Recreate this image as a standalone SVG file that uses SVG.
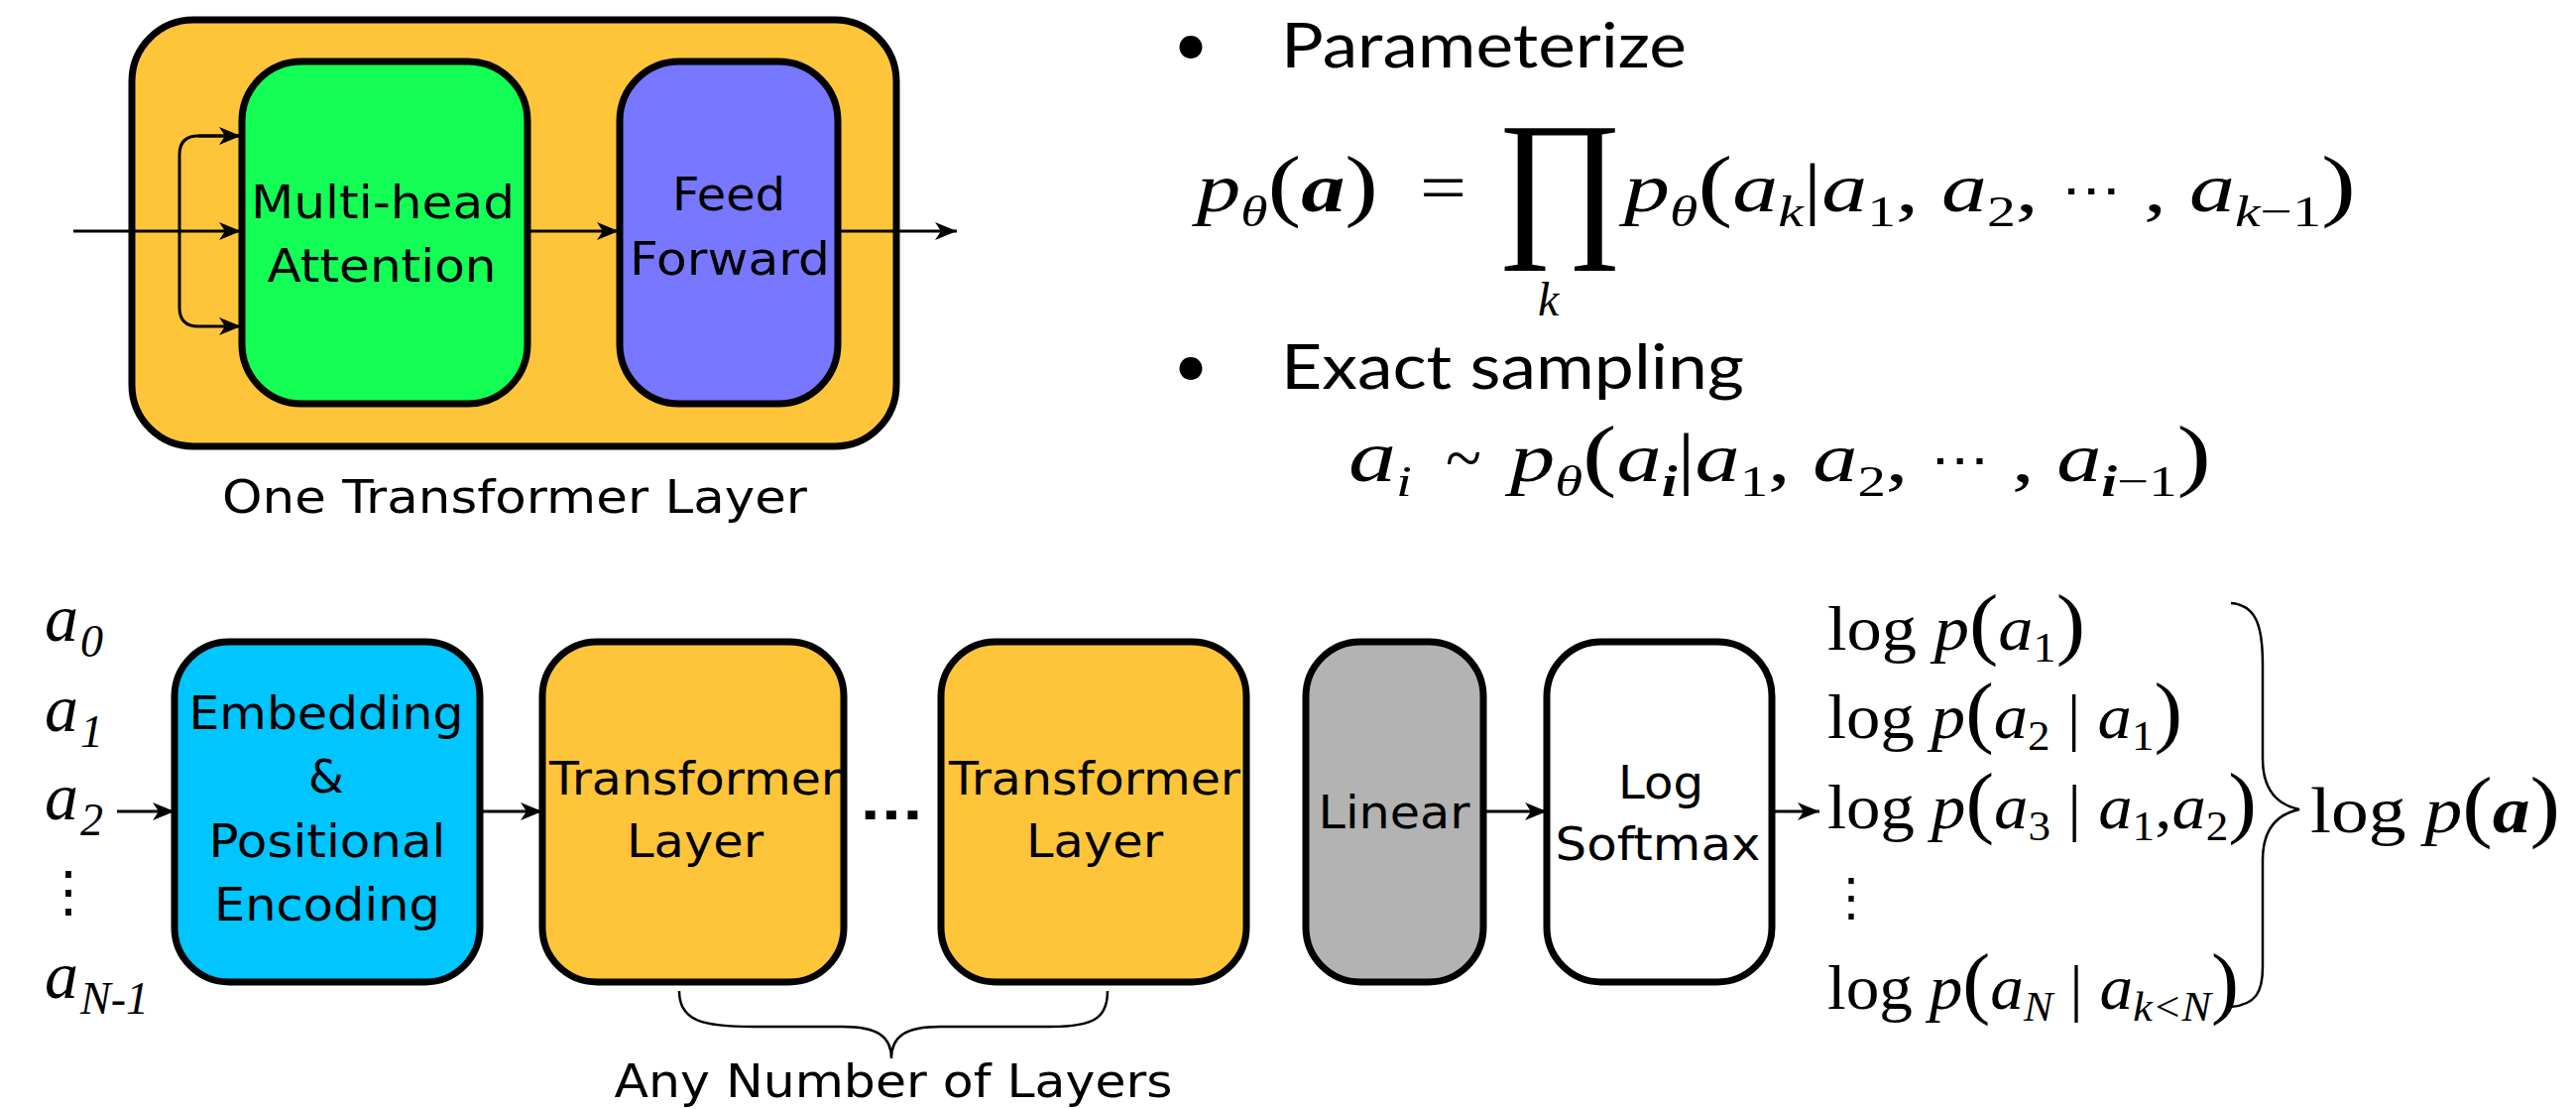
<svg xmlns="http://www.w3.org/2000/svg" width="2598" height="1118" viewBox="0 0 2598 1118">
<style>
.box{stroke:#000;stroke-width:7}
.lbl{font-family:"DejaVu Sans",sans-serif;font-size:46px;fill:#000;text-anchor:middle}
.cal{font-family:Lato,"Open Sans",sans-serif;font-size:62px;fill:#000}
.m{font-family:"Liberation Serif","DejaVu Serif",serif;font-style:italic;fill:#000}
.up{font-style:normal}
.b{font-weight:bold}
.s{font-size:44px}
.s2{font-size:42px}
.pr{font-size:80px;font-style:normal}
.dots{font-size:46px;font-style:normal}
.conn{stroke:#000;stroke-width:3;fill:none}
.thin{stroke:#000;stroke-width:2.5;fill:none}
</style>
<defs>
<marker id="ah" viewBox="0 0 22 18" refX="22" refY="9" markerWidth="22" markerHeight="18" markerUnits="userSpaceOnUse" orient="auto">
<path d="M0,0 L22,9 L0,18 L6,9 Z" fill="#000"/>
</marker>
</defs>
<rect width="2598" height="1118" fill="#fff"/>

<g id="transformer-layer-detail">
<rect class="box" x="133" y="20" width="771" height="430" rx="62" fill="#FEC53A" stroke-width="8"/>
<g id="multi-head-attention">
<rect class="box" x="244" y="62" width="288" height="345" rx="60" fill="#14FF55"/>
<text class="lbl" x="386" y="220" textLength="266" lengthAdjust="spacingAndGlyphs">Multi-head</text>
<text class="lbl" x="385" y="284" textLength="231" lengthAdjust="spacingAndGlyphs">Attention</text>
</g>
<g id="feed-forward">
<rect class="box" x="625" y="62" width="220" height="345" rx="60" fill="#7777FF"/>
<text class="lbl" x="735" y="212" textLength="114" lengthAdjust="spacingAndGlyphs">Feed</text>
<text class="lbl" x="736" y="277" textLength="202" lengthAdjust="spacingAndGlyphs">Forward</text>
</g>
<text class="lbl" x="519" y="517" textLength="590" lengthAdjust="spacingAndGlyphs">One Transformer Layer</text>
</g>

<g id="bullets">
<text class="cal" x="1183" y="66" font-size="60">•</text>
<text class="cal" x="1292" y="68" textLength="409" lengthAdjust="spacingAndGlyphs">Parameterize</text>
<text class="cal" x="1183" y="390" font-size="60">•</text>
<text class="cal" x="1292" y="392" textLength="467" lengthAdjust="spacingAndGlyphs">Exact sampling</text>
</g>

<g id="formula-1">
<text class="m" x="1207" y="213" font-size="70" textLength="183" lengthAdjust="spacingAndGlyphs">p<tspan class="s" dy="15">θ</tspan><tspan class="pr" dy="-15">(</tspan><tspan class="b">a</tspan><tspan class="pr">)</tspan></text>
<text class="m up" x="1432" y="213" font-size="70" textLength="47" lengthAdjust="spacingAndGlyphs" style="font-style:normal">=</text>
<text class="m up" x="0" y="0" font-size="166" transform="translate(1509,238) scale(0.94,1)" style="font-style:normal">∏</text>
<text class="m" x="1551" y="318" font-size="48">k</text>
<text class="m" x="1638" y="213" font-size="70" textLength="738" lengthAdjust="spacingAndGlyphs">p<tspan class="s" dy="15">θ</tspan><tspan class="pr" dy="-15">(</tspan>a<tspan class="s" dy="15">k</tspan><tspan class="up" dy="-15">|</tspan>a<tspan class="s up" dy="15">1</tspan><tspan class="up" dy="-15">, </tspan>a<tspan class="s up" dy="15">2</tspan><tspan class="up" dy="-15">,  </tspan><tspan class="dots" dy="-6">⋯</tspan><tspan class="up" dy="6">  , </tspan>a<tspan class="s" dy="15">k<tspan class="up">−1</tspan></tspan><tspan class="pr" dy="-15">)</tspan></text>
</g>

<g id="formula-2">
<text class="m" x="1360" y="485" font-size="74" textLength="64" lengthAdjust="spacingAndGlyphs">a<tspan class="s" dy="15">i</tspan></text>
<text class="m up" x="1458" y="485" font-size="70" textLength="36" lengthAdjust="spacingAndGlyphs" style="font-style:normal">~</text>
<text class="m" x="1523" y="485" font-size="70" textLength="707" lengthAdjust="spacingAndGlyphs">p<tspan class="s" dy="15">θ</tspan><tspan class="pr" dy="-15">(</tspan>a<tspan class="s b" dy="15">i</tspan><tspan class="up" dy="-15">|</tspan>a<tspan class="s up" dy="15">1</tspan><tspan class="up" dy="-15">, </tspan>a<tspan class="s up" dy="15">2</tspan><tspan class="up" dy="-15">,  </tspan><tspan class="dots" dy="-6">⋯</tspan><tspan class="up" dy="6">  , </tspan>a<tspan class="s" dy="15"><tspan class="b">i</tspan><tspan class="up">−1</tspan></tspan><tspan class="pr" dy="-15">)</tspan></text>
</g>

<g id="inputs">
<text class="m" font-size="68" y="646"><tspan x="45">a</tspan><tspan x="81" y="662" font-size="46">0</tspan></text>
<text class="m" font-size="68" y="737"><tspan x="45">a</tspan><tspan x="81" y="753" font-size="46">1</tspan></text>
<text class="m" font-size="68" y="826"><tspan x="45">a</tspan><tspan x="81" y="842" font-size="46">2</tspan></text>
<text class="m up" x="69" y="918" font-size="56" text-anchor="middle" style="font-style:normal">⋮</text>
<text class="m" font-size="68" y="1006"><tspan x="45">a</tspan><tspan x="81" y="1022" font-size="46">N-1</tspan></text>
</g>

<g id="embedding">
<rect class="box" x="176" y="647" width="308" height="343" rx="55" fill="#00C5FF"/>
<text class="lbl" x="329" y="735" textLength="277" lengthAdjust="spacingAndGlyphs">Embedding</text>
<text class="lbl" x="329" y="799">&amp;</text>
<text class="lbl" x="330" y="864" textLength="239" lengthAdjust="spacingAndGlyphs">Positional</text>
<text class="lbl" x="330" y="928" textLength="228" lengthAdjust="spacingAndGlyphs">Encoding</text>
</g>
<g id="transformer-1">
<rect class="box" x="547" y="647" width="304" height="343" rx="55" fill="#FEC53A"/>
<text class="lbl" x="701" y="801" textLength="294" lengthAdjust="spacingAndGlyphs">Transformer</text>
<text class="lbl" x="701" y="864" textLength="138" lengthAdjust="spacingAndGlyphs">Layer</text>
</g>
<text id="ellipsis" class="lbl" x="899" y="826" font-size="60" textLength="64" lengthAdjust="spacingAndGlyphs" font-weight="bold">...</text>
<g id="transformer-2">
<rect class="box" x="949" y="647" width="308" height="343" rx="55" fill="#FEC53A"/>
<text class="lbl" x="1104" y="801" textLength="294" lengthAdjust="spacingAndGlyphs">Transformer</text>
<text class="lbl" x="1104" y="864" textLength="138" lengthAdjust="spacingAndGlyphs">Layer</text>
</g>
<g id="linear">
<rect class="box" x="1317" y="647" width="179" height="343" rx="55" fill="#B3B3B3"/>
<text class="lbl" x="1406" y="835" textLength="153" lengthAdjust="spacingAndGlyphs">Linear</text>
</g>
<g id="log-softmax">
<rect class="box" x="1560" y="647" width="227" height="343" rx="55" fill="#FFFFFF"/>
<text class="lbl" x="1675" y="805" textLength="86" lengthAdjust="spacingAndGlyphs">Log</text>
<text class="lbl" x="1672" y="867" textLength="207" lengthAdjust="spacingAndGlyphs">Softmax</text>
</g>
<text id="any-number" class="lbl" x="901" y="1106" textLength="563" lengthAdjust="spacingAndGlyphs">Any Number of Layers</text>

<g id="outputs">
<text class="m" x="1843" y="655" font-size="64" textLength="260" lengthAdjust="spacingAndGlyphs"><tspan class="up">log </tspan>p<tspan class="pr" font-size="72">(</tspan>a<tspan class="s2 up" dy="12">1</tspan><tspan class="pr" font-size="72" dy="-12">)</tspan></text>
<text class="m" x="1843" y="744" font-size="64" textLength="358" lengthAdjust="spacingAndGlyphs"><tspan class="up">log </tspan>p<tspan class="pr" font-size="72">(</tspan>a<tspan class="s2 up" dy="12">2</tspan><tspan class="up" dy="-12"> | </tspan>a<tspan class="s2 up" dy="12">1</tspan><tspan class="pr" font-size="72" dy="-12">)</tspan></text>
<text class="m" x="1843" y="835" font-size="64" textLength="433" lengthAdjust="spacingAndGlyphs"><tspan class="up">log </tspan>p<tspan class="pr" font-size="72">(</tspan>a<tspan class="s2 up" dy="12">3</tspan><tspan class="up" dy="-12"> | </tspan>a<tspan class="s2 up" dy="12">1</tspan><tspan class="up" dy="-12">,</tspan>a<tspan class="s2 up" dy="12">2</tspan><tspan class="pr" font-size="72" dy="-12">)</tspan></text>
<text class="m up" x="1867" y="922" font-size="52" text-anchor="middle" style="font-style:normal">⋮</text>
<text class="m" x="1843" y="1017" font-size="64" textLength="415" lengthAdjust="spacingAndGlyphs"><tspan class="up">log </tspan>p<tspan class="pr" font-size="72">(</tspan>a<tspan class="s2" dy="12">N</tspan><tspan class="up" dy="-12"> | </tspan>a<tspan class="s2" dy="12">k&lt;N</tspan><tspan class="pr" font-size="72" dy="-12">)</tspan></text>
<text class="m" x="2330" y="839" font-size="66" textLength="252" lengthAdjust="spacingAndGlyphs"><tspan class="up">log  </tspan>p<tspan class="pr" font-size="74">(</tspan><tspan class="b">a</tspan><tspan class="pr" font-size="74">)</tspan></text>
</g>

<g id="connectors">
<path class="conn" d="M74,233 H243" marker-end="url(#ah)"/>
<path class="conn" d="M243,137 H200 Q181,137 181,156 V310 Q181,329 200,329 H243" marker-end="url(#ah)"/>
<path class="conn" d="M200,137 H243" marker-end="url(#ah)"/>
<path class="conn" d="M532,233 H624" marker-end="url(#ah)"/>
<path class="conn" d="M845,233 H965" marker-end="url(#ah)"/>
<path class="conn" d="M118,818 H176" marker-end="url(#ah)"/>
<path class="conn" d="M485,818 H547" marker-end="url(#ah)"/>
<path class="conn" d="M1497,818 H1560" marker-end="url(#ah)"/>
<path class="conn" d="M1789,818 H1835" marker-end="url(#ah)"/>
<path class="thin" d="M685,999 C685,1030 710,1035 760,1035 H850 C885,1035 899,1045 899,1067 C899,1045 913,1035 948,1035 H1060 C1105,1035 1117,1025 1117,999"/>
<path class="thin" d="M2250,608 C2275,610 2282,630 2282,670 V765 C2282,800 2300,812 2319,816 C2300,820 2282,832 2282,867 V975 C2282,1000 2275,1013 2250,1015"/>
</g>
</svg>
